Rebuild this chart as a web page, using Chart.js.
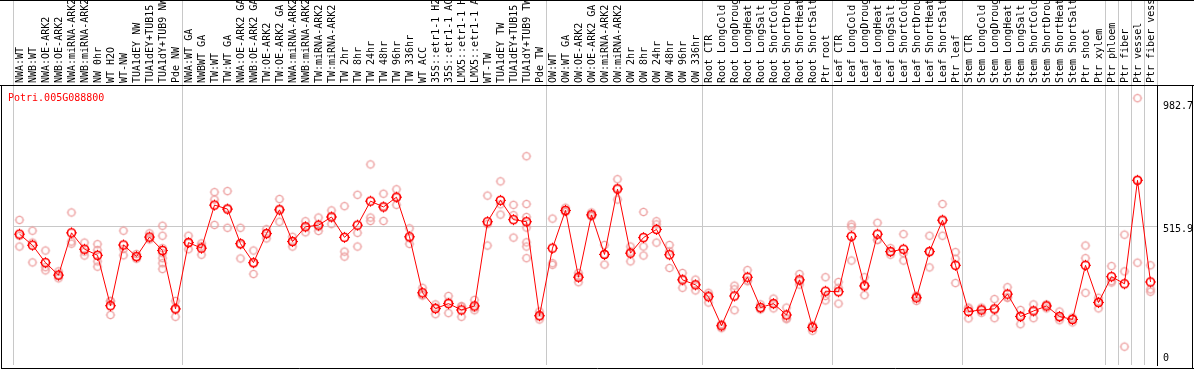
<!DOCTYPE html>
<html>
<head>
<meta charset="utf-8">
<script src="https://cdn.jsdelivr.net/npm/chart.js@4.4.1/dist/chart.umd.min.js"></script>
<style>
  html, body { margin: 0; padding: 0; background: #fff; }
</style>
</head>
<body>
<canvas id="geneChart" width="1194" height="370"></canvas>
<script>
const geneName = "Potri.005G088800";

const sampleLabels = [
  "NWA:WT", "NWB:WT", "NWA:OE-ARK2", "NWB:OE-ARK2", "NWA:miRNA-ARK2", "NWB:miRNA-ARK2",
  "NW 0hr", "WT H2O", "WT-NW", "TUA1dEY NW", "TUA1dEY+TUB15 NW", "TUA1dY+TUB9 NW", "Pde NW",
  "NWA:WT GA", "NWBWT GA", "TW:WT", "TW:WT GA", "NWA:OE-ARK2 GA", "NWB:OE-ARK2 GA",
  "TW:OE-ARK2", "TW:OE-ARK2 GA", "NWA:miRNA-ARK2", "NWB:miRNA-ARK2", "TW:miRNA-ARK2", "TW:miRNA-ARK2",
  "TW 2hr", "TW 8hr", "TW 24hr", "TW 48hr", "TW 96hr", "TW 336hr", "WT ACC",
  "35S::etr1-1 H2O", "35S::etr1-1 ACC", "LMX5::etr1-1 H2O", "LMX5::etr1-1 ACC",
  "WT-TW", "TUA1dEY TW", "TUA1dEY+TUB15 TW", "TUA1dY+TUB9 TW", "Pde TW",
  "OW:WT", "OW:WT GA", "OW:OE-ARK2", "OW:OE-ARK2 GA", "OW:miRNA-ARK2", "OW:miRNA-ARK2",
  "OW 2hr", "OW 8hr", "OW 24hr", "OW 48hr", "OW 96hr", "OW 336hr",
  "Root CTR", "Root LongCold", "Root LongDrought", "Root LongHeat", "Root LongSalt",
  "Root ShortCold", "Root ShortDrought", "Root ShortHeat", "Root ShortSalt", "Ptr root",
  "Leaf CTR", "Leaf LongCold", "Leaf LongDrought", "Leaf LongHeat", "Leaf LongSalt",
  "Leaf ShortCold", "Leaf ShortDrought", "Leaf ShortHeat", "Leaf ShortSalt", "Ptr leaf",
  "Stem CTR", "Stem LongCold", "Stem LongDrought", "Stem LongHeat", "Stem LongSalt",
  "Stem ShortCold", "Stem ShortDrought", "Stem ShortHeat", "Stem ShortSalt",
  "Ptr shoot", "Ptr xylem", "Ptr phloem", "Ptr fiber", "Ptr vessel", "Ptr fiber vessel"
];

const meanValues = [
  488, 446, 380, 333, 493, 431, 408, 217, 447, 403, 477, 426, 205,
  456, 435, 598, 583, 452, 380, 490, 580, 460, 516, 522, 553, 476, 522, 613, 591, 628, 478,
  266, 206, 225, 201, 216, 535, 616, 543, 535, 179,
  435, 578, 325, 561, 411, 659, 416, 475, 506, 410, 315, 296,
  251, 141, 254, 325, 210, 225, 182, 315, 135, 272,
  270, 480, 292, 488, 422, 431, 247, 422, 541, 370,
  195, 201, 205, 261, 176, 197, 216, 176, 165, 370, 229,
  327, 300, 692, 307
];

const replicateValues = [
  [542, 441, 481], [501, 381, 456], [426, 363, 351], [347, 321, 331], [570, 460, 452],
  [456, 407, 422], [450, 428, 385, 365], [235, 234, 182], [501, 408, 432], [400, 395, 413],
  [491, 472, 468], [520, 482, 435, 416, 397, 378, 356], [235, 175, 205],
  [482, 431, 455], [453, 410, 442], [647, 619, 523], [651, 512, 586], [512, 396, 448],
  [426, 337, 377], [507, 472, 491], [621, 535, 584], [478, 441, 461], [537, 495, 516],
  [551, 500, 515], [578, 526, 555], [594, 422, 403], [637, 493, 441], [752, 551, 538],
  [641, 538, 594], [658, 599, 627], [510, 451, 473], [285, 257, 256], [222, 185, 211],
  [254, 189, 232], [216, 175, 212], [239, 200, 209], [634, 445, 526], [688, 601, 562],
  [599, 560, 475], [783, 602, 553, 513, 457, 441, 397], [195, 165, 177],
  [547, 378, 372], [588, 572, 574], [341, 306, 328], [570, 557, 556], [447, 373, 413],
  [696, 619, 662], [441, 385, 422], [572, 441, 407], [537, 525, 456], [447, 360, 423],
  [341, 285, 319], [316, 275, 297],
  [266, 229, 258], [147, 132, 144], [293, 279, 200], [352, 310, 313], [222, 204, 204],
  [244, 207, 224], [210, 166, 170], [337, 297, 311], [141, 122, 142], [325, 237, 254],
  [307, 285, 225], [525, 516, 388], [325, 257, 294], [531, 466, 467], [435, 410, 421],
  [488, 416, 388], [251, 235, 255], [482, 362, 422], [602, 482, 539], [420, 395, 303],
  [210, 169, 206], [210, 190, 203], [242, 170, 203], [287, 247, 249], [201, 147, 180],
  [222, 170, 199], [222, 207, 219], [195, 162, 171], [172, 154, 169], [445, 397, 266],
  [247, 207, 233], [367, 310, 305], [486, 347, 62], [1003, 380, 693], [370, 279, 270]
];

const yTickValues = [0, 515.9, 982.7];
const yGridValue = 515.9;
// index of first sample after each grey separator
const groupStarts = [0, 13, 41, 53, 63, 73, 84, 85, 86, 87];

const sepColor = "#c8c8c8";
const clear = "rgba(0,0,0,0)";
const fontFamily = "DejaVu Sans Mono";

// small ring marker with nubs, like the original plot symbol
function ringMarker(color, radius, width, nub) {
  const size = Math.ceil((radius + nub) * 2 + 2);
  const c = document.createElement("canvas");
  c.width = size;
  c.height = size;
  const g = c.getContext("2d");
  const m = size / 2;
  g.strokeStyle = color;
  g.lineWidth = width;
  g.beginPath();
  g.arc(m, m, radius, 0, Math.PI * 2);
  g.stroke();
  g.lineWidth = 1;
  g.beginPath();
  [[0, -1], [0, 1], [-1, 0], [1, 0]].forEach(([dx, dy]) => {
    g.moveTo(m + dx * radius, m + dy * radius);
    g.lineTo(m + dx * (radius + nub), m + dy * (radius + nub));
  });
  g.stroke();
  return c;
}

const meanMarker = ringMarker("#ff0000", 4, 1.6, 1.5);
const repMarker = ringMarker("#ec9c9c", 3.5, 1.2, 1.1);

// one dataset per replicate slot, aligned with the sample labels
const maxReps = Math.max(...replicateValues.map((r) => r.length));
const repDatasets = [];
for (let k = 0; k < maxReps; k++) {
  repDatasets.push({
    label: "rep " + (k + 1),
    data: replicateValues.map((r) => (r[k] === undefined ? null : r[k])),
    showLine: false,
    pointStyle: repMarker,
    order: 1
  });
}

const isSeparator = (ctx) => ctx.index === undefined || groupStarts.includes(ctx.index);

const framePlugin = {
  id: "frame",
  afterDraw(chart) {
    const ctx = chart.ctx;
    const area = chart.chartArea;
    ctx.save();
    ctx.strokeStyle = "#000";
    ctx.lineWidth = 1;
    ctx.beginPath();
    ctx.moveTo(0, 0.5);
    ctx.lineTo(chart.width, 0.5);
    ctx.moveTo(0, area.top + 0.5);
    ctx.lineTo(chart.width, area.top + 0.5);
    ctx.moveTo(1.5, area.top);
    ctx.lineTo(1.5, chart.height - 1);
    ctx.moveTo(1, chart.height - 1.5);
    ctx.lineTo(chart.width, chart.height - 1.5);
    ctx.moveTo(chart.width - 1.5, area.top);
    ctx.lineTo(chart.width - 1.5, chart.height - 1);
    ctx.stroke();
    ctx.fillStyle = "#ff0000";
    ctx.font = "10px '" + fontFamily + "'";
    ctx.textBaseline = "alphabetic";
    ctx.fillText(geneName, 8, 101);
    ctx.restore();
  }
};

new Chart(document.getElementById("geneChart"), {
  type: "line",
  data: {
    labels: sampleLabels,
    datasets: [
      {
        label: "mean",
        data: meanValues,
        borderColor: "#ff0000",
        borderWidth: 1,
        pointStyle: meanMarker,
        tension: 0,
        order: 0
      },
      ...repDatasets
    ]
  },
  options: {
    responsive: false,
    animation: false,
    devicePixelRatio: 1,
    layout: { padding: { left: 13, right: 0, top: 0, bottom: 2 } },
    plugins: { legend: { display: false }, tooltip: { enabled: false } },
    scales: {
      x: {
        type: "category",
        position: "top",
        offset: true,
        grid: {
          offset: true,
          drawTicks: true,
          tickLength: 85,
          color: (ctx) => (isSeparator(ctx) ? sepColor : clear),
          tickColor: (ctx) => (isSeparator(ctx) ? sepColor : clear)
        },
        border: { display: true, color: "#000" },
        ticks: {
          autoSkip: false,
          minRotation: 90,
          maxRotation: 90,
          padding: -83,
          labelOffset: 13,
          color: "#000",
          font: { family: fontFamily, size: 10 }
        },
        afterFit: (s) => { s.height = 85; }
      },
      y: {
        position: "right",
        min: -7.5,
        max: 1052.8,
        afterBuildTicks: (s) => { s.ticks = yTickValues.map((v) => ({ value: v })); },
        grid: {
          drawTicks: false,
          color: (ctx) => (ctx.tick && ctx.tick.value === yGridValue ? sepColor : clear)
        },
        border: { display: true, color: "#000" },
        ticks: {
          padding: 6,
          color: "#000",
          // "0" sits a little above its value, the others a little below
          font: (ctx) => ({
            family: fontFamily,
            size: 10,
            lineHeight: ctx.tick && ctx.tick.value === 0 ? "8.6px" : "6px"
          }),
          callback: (v) => (v === 0 ? ["0", ""] : ["", String(v)])
        },
        afterFit: (s) => {
          s.width = 37;
          s.paddingTop = 0;
          s.paddingBottom = 0;
        }
      }
    }
  },
  plugins: [framePlugin]
});
</script>
</body>
</html>
